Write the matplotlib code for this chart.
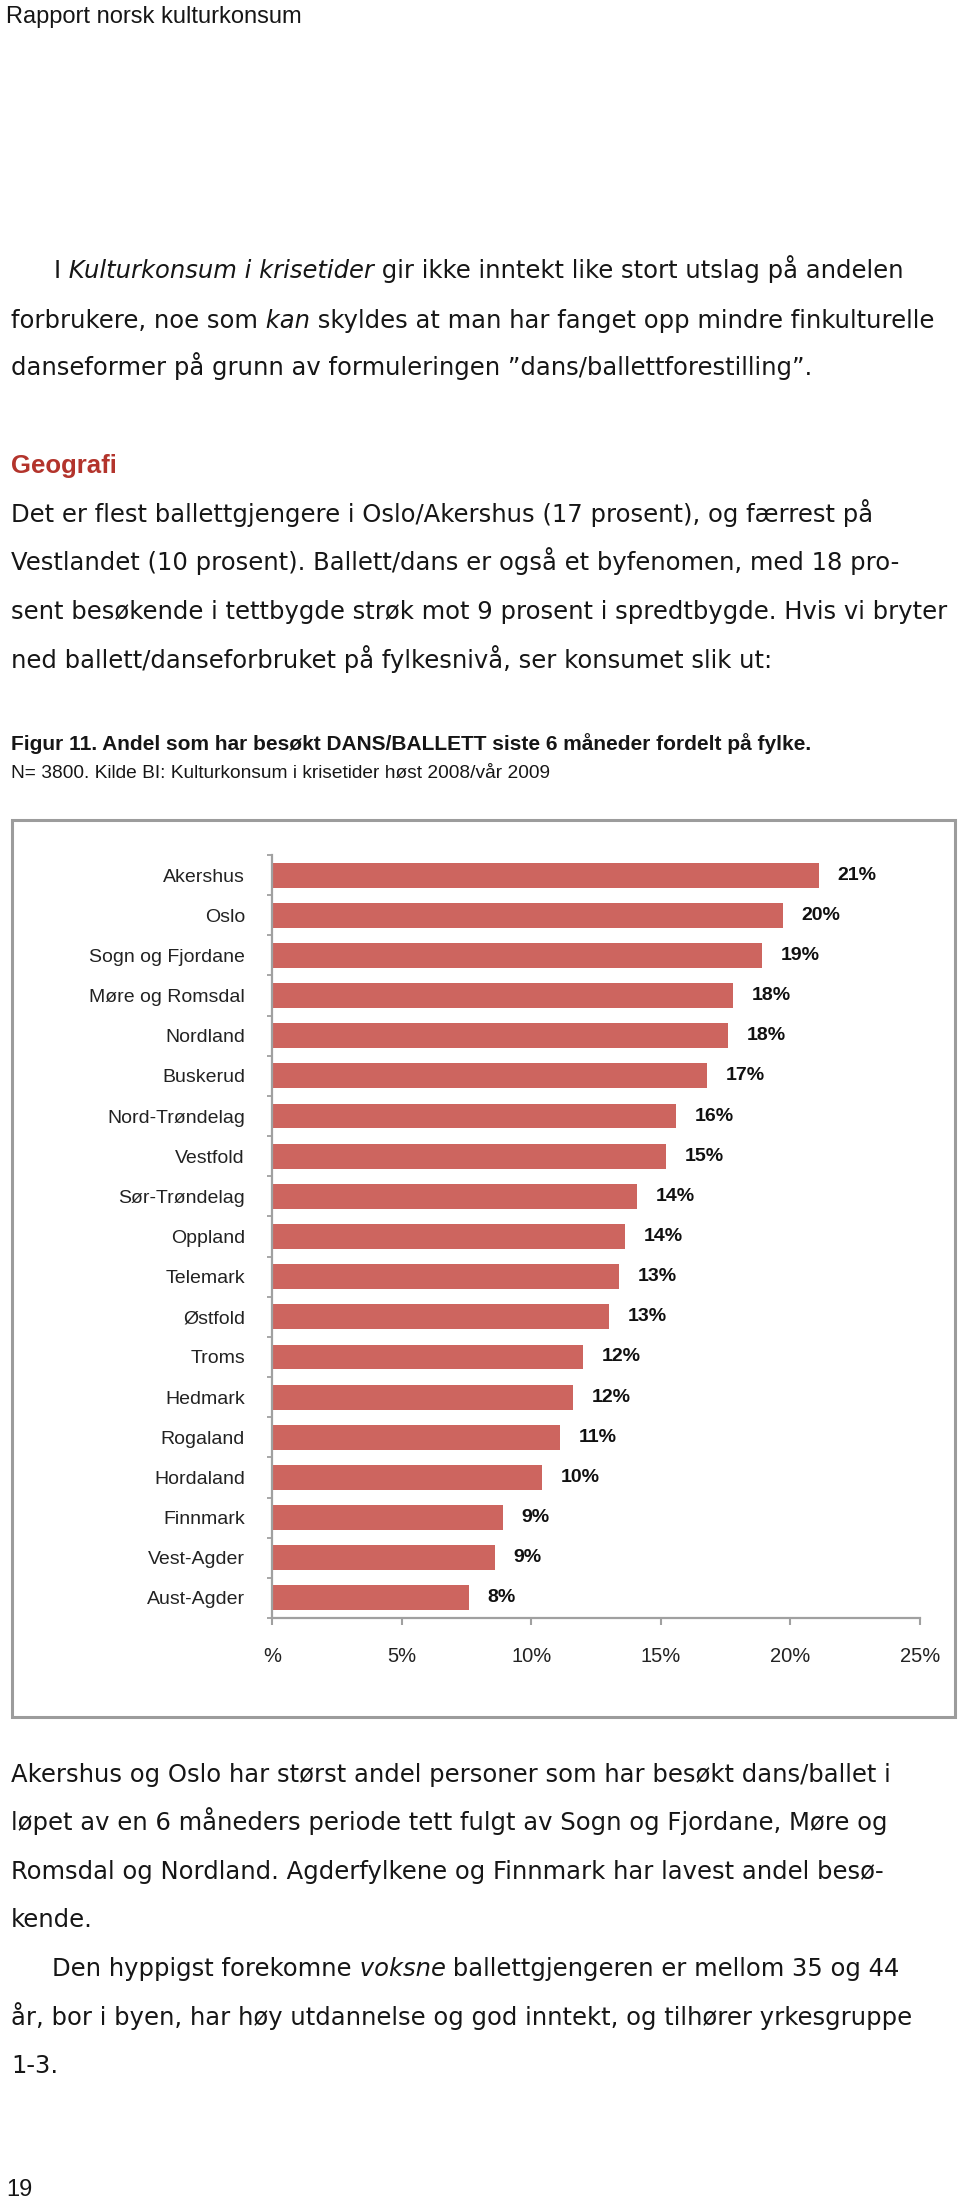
import matplotlib
matplotlib.use('Agg')
import matplotlib.pyplot as plt
from matplotlib import font_manager
from matplotlib.patches import Rectangle

# ── Chart data ───────────────────────────────────────────────────────────────
fylker = ['Akershus', 'Oslo', 'Sogn og Fjordane', 'Møre og Romsdal', 'Nordland',
          'Buskerud', 'Nord-Trøndelag', 'Vestfold', 'Sør-Trøndelag', 'Oppland',
          'Telemark', 'Østfold', 'Troms', 'Hedmark', 'Rogaland', 'Hordaland',
          'Finnmark', 'Vest-Agder', 'Aust-Agder']
andel = [21.1, 19.7, 18.9, 17.8, 17.6, 16.8, 15.6, 15.2, 14.1, 13.6,
         13.4, 13.0, 12.0, 11.6, 11.1, 10.4, 8.9, 8.6, 7.6]
x_ticks = [0, 5, 10, 15, 20, 25]
x_ticklabels = ['%', '5%', '10%', '15%', '20%', '25%']

# ── Page text ────────────────────────────────────────────────────────────────
header = 'Rapport norsk kulturkonsum'
para1 = [
    [('I', 'normal'), (' Kulturkonsum i krisetider', 'italic'),
     (' gir ikke inntekt like stort utslag på andelen', 'normal')],
    [('forbrukere, noe som', 'normal'), (' kan', 'italic'),
     (' skyldes at man har fanget opp mindre finkulturelle', 'normal')],
    [('danseformer på grunn av formuleringen ”dans/ballettforestilling”.', 'normal')],
]
heading = 'Geografi'
para2 = [
    'Det er flest ballettgjengere i Oslo/Akershus (17 prosent), og færrest på',
    'Vestlandet (10 prosent). Ballett/dans er også et byfenomen, med 18 pro-',
    'sent besøkende i tettbygde strøk mot 9 prosent i spredtbygde. Hvis vi bryter',
    'ned ballett/danseforbruket på fylkesnivå, ser konsumet slik ut:',
]
caption = 'Figur 11. Andel som har besøkt DANS/BALLETT siste 6 måneder fordelt på fylke.'
source = 'N= 3800. Kilde BI: Kulturkonsum i krisetider høst 2008/vår 2009'
para3 = [
    'Akershus og Oslo har størst andel personer som har besøkt dans/ballet i',
    'løpet av en 6 måneders periode tett fulgt av Sogn og Fjordane, Møre og',
    'Romsdal og Nordland. Agderfylkene og Finnmark har lavest andel besø-',
    'kende.',
]
para4 = [
    [('Den hyppigst forekomne', 'normal'), (' voksne', 'italic'),
     (' ballettgjengeren er mellom 35 og 44', 'normal')],
    [('år, bor i byen, har høy utdannelse og god inntekt, og tilhører yrkesgruppe', 'normal')],
    [('1-3.', 'normal')],
]
page_no = '19'

# ── Fonts / colours ──────────────────────────────────────────────────────────
installed = {f.name for f in font_manager.fontManager.ttflist}
SANS = 'Liberation Sans' if 'Liberation Sans' in installed else 'DejaVu Sans'
BODY = 'DejaVu Sans'
NARROW = 'Liberation Sans Narrow' if 'Liberation Sans Narrow' in installed else None

BAR = '#CD655F'
GRID = '#A0A0A0'
RED = '#B3342C'
BODY_SIZE = 17.5
INK = '#161616'

W, H = 960, 2199
fig = plt.figure(figsize=(W / 100, H / 100), dpi=100)
renderer = fig.canvas.get_renderer()


def fx(px):
    return px / W


def fy(py):
    return 1 - py / H


def rich_line(x, y, parts, size=BODY_SIZE, family=BODY):
    # draw segments one after another, advancing by measured width
    for txt, style in parts:
        t = fig.text(fx(x), fy(y), txt, fontsize=size, family=family,
                     style=style, va='baseline', ha='left', color=INK)
        x += t.get_window_extent(renderer=renderer).width


# header
fig.text(fx(6), fy(23), header, fontsize=17, family=SANS, va='baseline', color=INK)

# first paragraph
for (x0, y0), parts in zip([(54, 278), (11, 328), (11, 375)], para1):
    rich_line(x0, y0, parts)

fig.text(fx(11), fy(473), heading, fontsize=18.5, family=NARROW or SANS,
         weight='bold', color=RED, va='baseline')

for y0, txt in zip([522, 570, 619, 668], para2):
    rich_line(11, y0, [(txt, 'normal')])

if NARROW:
    fig.text(fx(11), fy(750), caption, fontsize=16.5, family=NARROW, weight='bold',
             va='baseline', color=INK)
    fig.text(fx(11), fy(778), source, fontsize=15, family=NARROW, va='baseline', color=INK)
else:
    fig.text(fx(11), fy(750), caption, fontsize=15, family=SANS, weight='bold',
             va='baseline', color=INK)
    fig.text(fx(11), fy(778), source, fontsize=13.8, family=SANS, va='baseline', color=INK)

for y0, txt in zip([1782, 1830, 1879, 1927], para3):
    rich_line(11, y0, [(txt, 'normal')])
for (x0, y0), parts in zip([(52, 1976), (11, 2025), (11, 2073)], para4):
    rich_line(x0, y0, parts)

fig.text(fx(6), fy(2196), page_no, fontsize=17, family=SANS, va='baseline', color=INK)

# ── Chart frame ──────────────────────────────────────────────────────────────
fig.patches.append(Rectangle((fx(12), fy(1717)), fx(955) - fx(12), fy(820) - fy(1717),
                             transform=fig.transFigure, fill=False, ec='#9C9C9C', lw=2.2))

# ── Chart ────────────────────────────────────────────────────────────────────
ax = fig.add_axes([fx(272), fy(1618), fx(920) - fx(272), fy(855) - fy(1618)])
pos = list(range(len(fylker)))
ax.barh(pos, andel, height=0.62, color=BAR, zorder=2)
for p, v in zip(pos, andel):
    ax.annotate(f'{v:.0f}%', (v, p), xytext=(13.5, 0), textcoords='offset points',
                va='center', ha='left', fontsize=14, family=SANS, weight='bold',
                color='#111111')

ax.set_xlim(0, 25)
ax.set_ylim(len(fylker) - 0.5, -0.5)
ax.set_xticks(x_ticks)
ax.set_xticklabels(x_ticklabels, family=SANS, fontsize=14.5, color='#222222')
ax.set_yticks(pos)
ax.set_yticklabels(fylker, family=SANS, fontsize=14, color='#222222')
ax.set_yticks([p - 0.5 for p in pos] + [len(fylker) - 0.5], minor=True)

ax.tick_params(axis='y', which='major', length=0, pad=19.5)
ax.tick_params(axis='y', which='minor', length=3.5, width=1.3, color=GRID)
ax.tick_params(axis='x', length=5, width=1.5, color=GRID, pad=16)

for side in ('top', 'right'):
    ax.spines[side].set_visible(False)
for side in ('left', 'bottom'):
    ax.spines[side].set_color(GRID)
    ax.spines[side].set_linewidth(1.6)
ax.set_facecolor('none')

fig.savefig('out.png', dpi=100)
